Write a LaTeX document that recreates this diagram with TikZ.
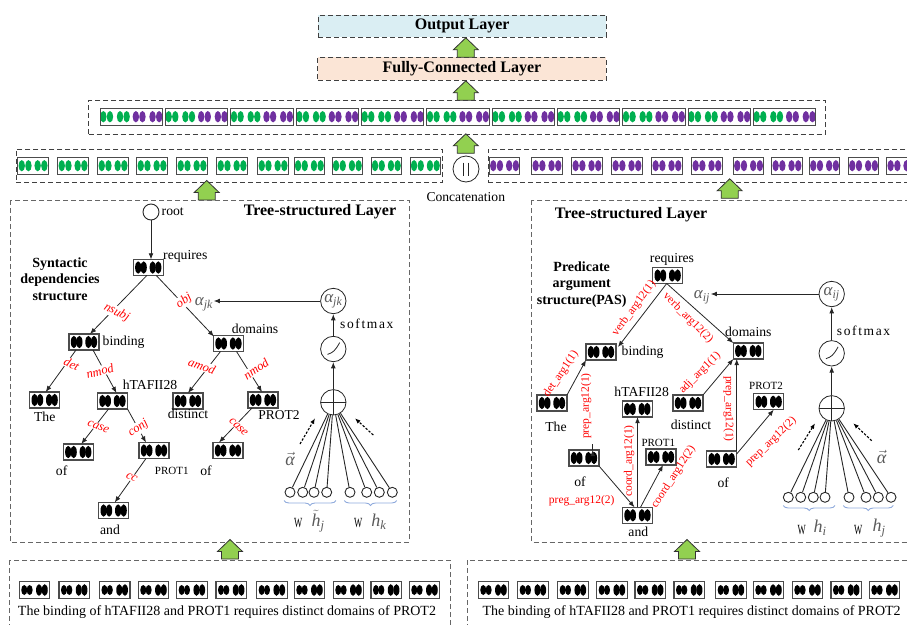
\documentclass[tikz,border=0pt]{standalone}
\usepackage{fontspec}
\setmainfont{Liberation Serif}
\newfontfamily\spacedserif[LetterSpace=12]{Liberation Serif}
\usetikzlibrary{arrows.meta,calc,decorations.pathreplacing}

\definecolor{outblue}{RGB}{218,238,243}
\definecolor{fcpeach}{RGB}{251,229,214}
\definecolor{vgreen}{RGB}{0,176,80}
\definecolor{vpurple}{RGB}{112,48,160}
\definecolor{arrowgreen}{RGB}{146,208,80}
\definecolor{bracecol}{RGB}{143,170,220}
\definecolor{mathgray}{RGB}{90,90,90}
\definecolor{lblred}{RGB}{255,0,0}

% italic Greek / Latin symbols set in the text face
\newcommand{\ital}[1]{\mbox{\itshape #1}}

\tikzset{
  px/.style={font=\fontsize{#1}{#1}\selectfont},
  layerbox/.style={draw=black!75, line width=0.8pt, dash pattern=on 5pt off 3pt, inner sep=0pt},
  panel/.style={draw=black!60, line width=0.8pt, dash pattern=on 5pt off 3pt},
  ovalcell/.style={rectangle, draw=black!70, line width=1.1pt, fill=white, inner sep=0pt, outer sep=0pt},
  % word vector with four black units (tree and input layer)
  tcell/.style={ovalcell, minimum width=30pt, minimum height=16pt,
    path picture={\foreach \dx in {-10.1,-4.6,4.4,10.0}
      \fill[black] ([xshift=\dx pt]path picture bounding box.center) ellipse [x radius=3.1pt, y radius=6.2pt];}},
  ecell/.style={ovalcell, minimum width=30.5pt, minimum height=16.6pt,
    path picture={\foreach \dx/\ry in {-10.3/5,-4.9/5,4.5/5.8,10.2/5.8}
      \fill[black] ([xshift=\dx pt]path picture bounding box.center) ellipse [x radius=3pt, y radius=\ry pt];}},
  gcell/.style={ovalcell, line width=0.9pt, minimum width=30.7pt, minimum height=16.7pt,
    path picture={\foreach \dx in {-11.3,-4.6,4.6,11.3}
      \fill[vgreen] ([xshift=\dx pt]path picture bounding box.center) ellipse [x radius=3.2pt, y radius=5.6pt];}},
  pcell/.style={ovalcell, line width=0.9pt, minimum width=30.5pt, minimum height=16.7pt,
    path picture={\foreach \dx in {-11.3,-4.6,4.6,11.3}
      \fill[vpurple] ([xshift=\dx pt]path picture bounding box.center) ellipse [x radius=3.2pt, y radius=5.6pt];}},
  ccell/.style={ovalcell, line width=0.9pt, minimum width=62.5pt, minimum height=16.7pt,
    path picture={\foreach \dx/\cc in {-27.9/vgreen,-21.3/vgreen,-11.2/vgreen,-4.6/vgreen,4.6/vpurple,11.2/vpurple,21.3/vpurple,27.9/vpurple}
      \fill[\cc] ([xshift=\dx pt]path picture bounding box.center) ellipse [x radius=3.2pt, y radius=5.7pt];}},
  word/.style={px=13.7, inner sep=0.5pt},
  smallword/.style={px=11, inner sep=0.5pt},
  title/.style={font=\fontsize{16}{16}\selectfont\bfseries, inner sep=0pt},
  deplbl/.style={text=lblred, font=\fontsize{12.5}{12.5}\selectfont\itshape, fill=white, inner sep=0.6pt},
  paslbl/.style={text=lblred, font=\fontsize{11.5}{11.5}\selectfont, inner sep=0.5pt},
  arr/.style={-{Latex[length=6.2pt,width=4.8pt]}, line width=0.8pt, draw=black!85},
  dasharr/.style={-{Latex[length=5.5pt,width=4.4pt]}, line width=1.1pt, dash pattern=on 2.4pt off 1.6pt},
  acirc/.style={circle, draw=black!85, line width=0.8pt, minimum size=25.4pt, inner sep=0pt},
  leaf/.style={circle, draw=black!85, line width=0.9pt, fill=white, minimum size=10pt, inner sep=0pt},
  fan/.style={line width=0.9pt, draw=black!85},
  oplus/.style={acirc, path picture={
      \draw[line width=0.8pt] (path picture bounding box.north) -- (path picture bounding box.south)
        (path picture bounding box.west) -- (path picture bounding box.east);}},
  sigm/.style={acirc, path picture={
      \coordinate (pc) at (path picture bounding box.center);
      \draw[line width=0.8pt] ([shift={(-5.8pt,-5.4pt)}]pc) .. controls ([shift={(0pt,-3.4pt)}]pc) and ([shift={(1.6pt,-2pt)}]pc) .. ([shift={(6.4pt,6.4pt)}]pc);}},
  alab/.style={text=mathgray, font=\fontsize{17}{17}\selectfont, inner sep=0.5pt},
  hlab/.style={text=mathgray, font=\fontsize{18}{18}\selectfont, inner sep=0pt},
  wlab/.style={font=\fontsize{14}{14}\selectfont, inner sep=0pt, xscale=0.62},
  brc/.style={draw=bracecol, line width=0.9pt, decorate, decoration={brace, mirror, amplitude=5pt}},
  upblock/.pic={\draw[draw=black!80, line width=0.8pt, fill=arrowgreen, line join=miter]
      (-8.5,0) -- (-8.5,-7.5) -- (-12.5,-7.5) -- (0,-19.5) -- (12.5,-7.5) -- (8.5,-7.5) -- (8.5,0) -- cycle;}
}

\begin{document}
\begin{tikzpicture}[x=1pt,y=-1pt]
\useasboundingbox (0,0) rectangle (907,624);
\clip (0,0) rectangle (907,624);

% ---------- output side ----------
\node[layerbox, fill=outblue, minimum width=288pt, minimum height=22.3pt, title] (outl) at (462.2,26.2) {Output Layer};
\node[layerbox, fill=fcpeach, minimum width=288.3pt, minimum height=23pt, title] (fcl) at (461.9,68.9) {Fully-Connected Layer};
\pic at (465.8,57.3) {upblock};
\pic at (465.8,100.3) {upblock};
\pic at (465.8,153.3) {upblock};

% concatenated vectors
\node[layerbox, minimum width=737pt, minimum height=33.6pt] (catbox) at (457.2,117.5) {};
\foreach \i in {0,...,10}
  \node[ccell] (cc\i) at ({131.25+65.33*\i},116.7) {};

% branch outputs
\node[layerbox, minimum width=426.7pt, minimum height=33pt] (gbox) at (229.35,165.8) {};
\foreach \x [count=\i] in {17.7,57.7,97.7,136.7,176.7,216.7,257.7,294,332,371,410}
  \node[gcell] (gc\i) at ({\x+15.35},165.7) {};
\node[layerbox, minimum width=440pt, minimum height=33pt] (pbox) at (708.3,165.8) {};
\foreach \x [count=\i] in {489.3,531.7,571.7,611.7,651.7,691.7,733.3,771.7,809.3,848.3,886.7}
  \node[pcell] (pc\i) at ({\x+15.25},165.7) {};

\node[circle, draw=black!85, line width=0.8pt, minimum size=26pt, inner sep=0pt,
  path picture={\draw[line width=0.8pt] ([shift={(-2.6pt,6.5pt)}]path picture bounding box.center) -- ++(0,13)
     ([shift={(2.6pt,6.5pt)}]path picture bounding box.center) -- ++(0,13);}] (concat) at (466,169) {};
\node[px=13.6, inner sep=0pt] (concattxt) at (465.8,197.5) {Concatenation};
\pic at (206.7,200) {upblock};
\pic at (729.7,198.3) {upblock};

% ---------- panels ----------
\draw[panel] (10,200) rectangle (409,542);
\draw[panel] (531.7,200) rectangle (935,542);
\draw[panel] (9,560) rectangle (450,640);
\draw[panel] (467.3,560) rectangle (935,640);
\pic at (230,559) {upblock};
\pic at (687,559) {upblock};

% ---------- input layers ----------
\foreach \x [count=\i] in {19.3,59,99.5,138.3,176.7,216,256.7,294.3,333.3,371,409.3}
  \node[ecell] (el\i) at ({\x+15.25},590) {};
\foreach \x [count=\i] in {478.3,517.7,557.7,596.7,635,674,715.7,753.3,792.3,831,869.3}
  \node[ecell] (er\i) at ({\x+15.25},590) {};
\node[px=14, inner sep=0pt] (sentl) at (227,612) {The binding of hTAFII28 and PROT1 requires distinct domains of PROT2};
\node[px=14, inner sep=0pt] (sentr) at (691.7,612) {The binding of hTAFII28 and PROT1 requires distinct domains of PROT2};

% ---------- syntactic dependency tree ----------
\node[title] (ltitle) at (320,212) {Tree-structured Layer};
\node[font=\fontsize{14}{16.4}\selectfont\bfseries, align=center, inner sep=0pt] (lkind) at (60,279) {Syntactic\\dependencies\\structure};

\node[circle, draw=black!85, line width=0.9pt, minimum size=16pt, inner sep=0pt] (root) at (151,212) {};
\node[word, anchor=west] (troot) at (161,212) {root};

\node[tcell] (req) at (148.3,267.5) {};
\node[tcell] (bind) at (84,342) {};
\node[tcell] (dom) at (228.5,343.5) {};
\node[tcell] (the) at (44.7,400) {};
\node[tcell] (htaf) at (112.5,401) {};
\node[tcell] (dist) at (188,401) {};
\node[tcell] (prot2) at (263,400) {};
\node[tcell] (ofa) at (78.3,452) {};
\node[tcell] (prot1) at (154,450.5) {};
\node[tcell] (and) at (113.7,510.5) {};
\node[tcell] (ofb) at (228,450.5) {};

\node[word, anchor=west] (treq) at (162.5,256) {requires};
\node[word, anchor=west] (tbind) at (102,342) {binding};
\node[word] (tdom) at (255,329) {domains};
\node[word] (tthe) at (44.7,416.5) {The};
\node[word] (thtaf) at (150,385) {hTAFII28};
\node[word] (tdist) at (188,414) {distinct};
\node[px=13.5, inner sep=0.5pt] (tprot2) at (279,415.5) {PROT2};
\node[word] (tofa) at (61.7,471) {of};
\node[smallword] (tprot1) at (171.7,470.5) {PROT1};
\node[word] (tand) at (110,529.5) {and};
\node[word] (tofb) at (206,471) {of};

\draw[arr] (root.south) -- (root.south |- req.north);
\draw[arr] ($(req.south)+(-1.5,0)$) -- ($(bind.north)+(6,0)$);
\draw[arr] ($(req.south)+(8,0)$) -- ($(dom.north west)+(0.5,1)$);
\draw[arr] ($(bind.south)+(-8,0)$) -- ($(the.north)+(1,0)$);
\draw[arr] ($(bind.south)+(9,0)$) -- ($(htaf.north)+(4,0)$);
\draw[arr] ($(dom.south)+(-8,0)$) -- (dist.north);
\draw[arr] ($(dom.south)+(8,0)$) -- ($(prot2.north)+(-1,0)$);
\draw[arr] ($(htaf.south)+(-4,0)$) -- ($(ofa.north)+(3,0)$);
\draw[arr] (htaf.south east) -- ($(prot1.north)+(-8,0)$);
\draw[arr] ($(prot1.south)+(-8,0)$) -- ($(and.north)+(1,0)$);
\draw[arr] ($(prot2.south)+(-11,0)$) -- ($(ofb.north)+(-9,0)$);

\node[deplbl, rotate=-27] (lnsubj) at (116.7,312.5) {nsubj};
\node[deplbl, rotate=35] (lobj) at (184,301) {obj};
\node[deplbl, rotate=-25] (ldet) at (71.7,364) {det};
\node[deplbl, rotate=15] (lnmoda) at (100,371) {nmod};
\node[deplbl, rotate=-20] (lamod) at (202,366) {amod};
\node[deplbl, rotate=35] (lnmodb) at (256,369) {nmod};
\node[deplbl, rotate=-22] (lcasea) at (98.3,426.7) {case};
\node[deplbl, rotate=35] (lconj) at (138.3,428.3) {conj};
\node[deplbl, rotate=-30] (lcc) at (131.7,477.3) {cc};
\node[deplbl, rotate=-45] (lcaseb) at (238.5,427) {case};

% attention over the dependency tree
\node[acirc] (ajk) at (333.3,301) {};
\node[alab] (ajkin) at (ajk) {\ital{α}\textsubscript{\ital{jk}}};
\node[sigm] (lsig) at (333.3,349) {};
\node[oplus] (lop) at (333.3,402.3) {};
\node[alab] (ajklab) at (204,304) {\ital{α}\textsubscript{\ital{jk}}};
\draw[arr] (ajk.west) -- (ajk.west -| ajklab.east);
\draw[arr] (lsig) -- (ajk);
\draw[arr] (lop) -- (lsig);
\node[font=\fontsize{13.5}{13.5}\selectfont, anchor=west, inner sep=0pt] (lsoft) at (340,323.5) {\spacedserif softmax};
\foreach \x [count=\i] in {290,302.7,314,326.7,350,366.7,379.3,392.3} {
  \node[leaf] (ll\i) at (\x,492.3) {};
  \draw[fan] (ll\i) -- (lop);
}
\coordinate (lda) at (300,444);
\coordinate (ldb) at (315,418.3);
\coordinate (ldc) at (373.3,435);
\coordinate (ldd) at (355,418.3);
\draw[dasharr] (lda) -- (ldb);
\draw[dasharr] (ldc) -- (ldd);
\node[hlab] (lavec) at (290,458.5) {$\vec{\ital{α}}$};
\draw[brc] (284,500.5) -- (336,500.5);
\draw[brc] (344.3,500.5) -- (396.7,500.5);
\node[wlab] (lw1) at (298.3,523.3) {W};
\node[hlab] (lh1) at (318,521) {$\tilde{\ital{h}}$\textsubscript{\ital{j}}};
\node[wlab] (lw2) at (358.3,523.3) {W};
\node[hlab] (lh2) at (379,522) {\ital{h}\textsubscript{\ital{k}}};

% ---------- predicate argument structure ----------
\node[title] (rtitle) at (631,214.5) {Tree-structured Layer};
\node[font=\fontsize{14}{16.6}\selectfont\bfseries, align=center, inner sep=0pt] (rkind) at (581.7,284.3) {Predicate\\argument\\structure(PAS)};

\node[tcell] (rreq) at (667.7,275.5) {};
\node[tcell] (rbind) at (601,352) {};
\node[tcell] (rdom) at (748.3,351) {};
\node[tcell] (rthe) at (552,403) {};
\node[tcell] (rofa) at (584,458) {};
\node[tcell] (rhtaf) at (637.3,409) {};
\node[tcell] (rprot1) at (661,457) {};
\node[tcell] (rand) at (637.5,515.3) {};
\node[tcell] (rdist) at (688,403) {};
\node[tcell] (rofb) at (721.7,459) {};
\node[tcell] (rprot2) at (768.7,401.7) {};

\node[word] (trreq) at (672,259) {requires};
\node[word, anchor=west] (trbind) at (621,352) {binding};
\node[word] (trdom) at (748.3,332) {domains};
\node[word] (trthe) at (556,427) {The};
\node[word] (trofa) at (580,482) {of};
\node[word] (trhtaf) at (641.7,391.5) {hTAFII28};
\node[smallword] (trprot1) at (658.3,443) {PROT1};
\node[word] (trand) at (638.3,531.5) {and};
\node[word] (trdist) at (691,425) {distinct};
\node[word] (trofb) at (723.3,482.5) {of};
\node[smallword] (trprot2) at (766,386) {PROT2};

\draw[arr] ($(rreq.south)+(-1,0)$) -- ($(rbind.north east)+(2,3)$);
\draw[arr] ($(rreq.south)+(-1,0)$) -- (rdom.north west);
\draw[arr] (rthe.north east) -- (rbind.south west);
\draw[arr] ($(rofa.north)+(8.7,0)$) -- ($(rofa.north)+(8.7,0)$ |- rbind.south);
\draw[arr] (rofa.south east) -- ($(rand.north)+(-3,0)$);
\draw[arr] (rand.north) -- (rand.north |- rhtaf.south);
\draw[arr] ($(rand.north)+(3,0)$) -- ($(rprot1.south)+(2,0)$);
\draw[arr] (rdist.north east) -- (rdom.south west);
\draw[arr] (rofb.north east) -- (rofb.north east |- rdom.south);
\draw[arr] ($(rofb.east)+(0,-5)$) -- ($(rprot2.south)+(5,0)$);

\node[paslbl, rotate=54] (pverba) at (634,308.5) {verb\_arg12(1)};
\node[paslbl, rotate=-45] (pverbb) at (688,318) {verb\_arg12(2)};
\node[paslbl, rotate=56] (pdet) at (561,374) {det\_arg1(1)};
\node[paslbl, rotate=90] (pprepa) at (586,406) {prep\_arg12(1)};
\node[paslbl] (ppreg) at (581.7,501) {preg\_arg12(2)};
\node[paslbl, rotate=90] (pcoorda) at (629,461) {coord\_arg12(1)};
\node[paslbl, rotate=57] (pcoordb) at (673.5,477) {coord\_arg12(2)};
\node[paslbl, rotate=45] (padj) at (700,373) {adj\_arg1(1)};
\node[paslbl, rotate=-90] (pprepb) at (728.5,409) {prep\_arg12(1)};
\node[paslbl, rotate=44] (pprepc) at (771,442) {prep\_arg12(2)};

% attention over the predicate argument structure
\node[acirc] (aij) at (831.7,294) {};
\node[alab] (aijin) at (aij) {\ital{α}\textsubscript{\ital{ij}}};
\node[sigm] (rsig) at (831.7,353.3) {};
\node[oplus] (rop) at (831.7,408.3) {};
\node[alab] (aijlab) at (702,297) {\ital{α}\textsubscript{\ital{ij}}};
\draw[arr] (aij.west) -- (aij.west -| aijlab.east);
\draw[arr] (rsig) -- (aij);
\draw[arr] (rop) -- (rsig);
\node[font=\fontsize{13.5}{13.5}\selectfont, anchor=west, inner sep=0pt] (rsoft) at (836.7,331) {\spacedserif softmax};
\foreach \x [count=\i] in {788.3,800.7,813.3,825,849,866,878.3,891} {
  \node[leaf] (rl\i) at (\x,497.3) {};
  \draw[fan] (rl\i) -- (rop);
}
\coordinate (rda) at (798.3,450);
\coordinate (rdb) at (815,423.3);
\coordinate (rdc) at (871.7,440.7);
\coordinate (rdd) at (853.3,423.3);
\draw[dasharr] (rda) -- (rdb);
\draw[dasharr] (rdc) -- (rdd);
\node[hlab] (ravec) at (881.7,456.7) {$\vec{\ital{α}}$};
\draw[brc] (783.3,505.5) -- (835,505.5);
\draw[brc] (843.3,505.5) -- (893.3,505.5);
\node[wlab] (rw1) at (801.7,530) {W};
\node[hlab] (rh1) at (820,528) {\ital{h}\textsubscript{\ital{i}}};
\node[wlab] (rw2) at (858.3,530) {W};
\node[hlab] (rh2) at (879,528) {\ital{h}\textsubscript{\ital{j}}};
\end{tikzpicture}
\end{document}
